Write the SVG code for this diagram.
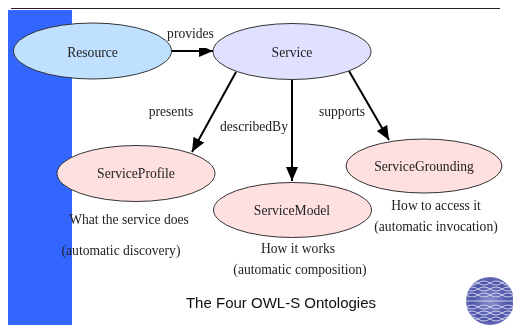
<svg xmlns="http://www.w3.org/2000/svg" width="513" height="325" viewBox="0 0 513 325">
<style>
.n{stroke:#333;stroke-width:1}
.t{font-family:"Liberation Serif","Times New Roman",serif;font-size:13.600px;fill:#222;text-anchor:middle}
.e{stroke:#000;stroke-width:2;fill:none;marker-end:url(#a)}
.g{fill:none;stroke:#e4e7f8;stroke-width:.8}
</style>
<defs>
<marker id="a" markerUnits="userSpaceOnUse" markerWidth="15" markerHeight="13" refX="14" refY="6" orient="auto"><path d="M0 0L14 6L0 12z" fill="#000"/></marker>
<radialGradient id="s" cx=".5" cy=".5" r=".5"><stop offset="0" stop-color="#8a90cc"/><stop offset=".8" stop-color="#4a52a8"/><stop offset="1" stop-color="#666db6"/></radialGradient>
<clipPath id="c"><circle cx="490" cy="301" r="24"/></clipPath>
<filter id="b" x="-2%" y="-2%" width="104%" height="104%"><feGaussianBlur stdDeviation=".4"/></filter>
</defs>
<rect x="0" y="0" width="513" height="325" fill="#fff"/>
<rect id="sidebar" x="8" y="10" width="64" height="315" fill="#3366ff"/>
<path id="rule" d="M11 8.500H500" stroke="#222" stroke-width="1"/>
<g id="connectors" filter="url(#b)">
<path class="e" d="M172 51H213"/>
<path class="e" d="M236 72L192 152"/>
<path class="e" d="M292 79V181"/>
<path class="e" d="M349 71L389 140"/>
</g>
<g filter="url(#b)">
<g id="resource"><ellipse class="n" cx="92.500" cy="51" rx="79" ry="28" fill="#bfe0ff"/><text class="t" x="92.500" y="57">Resource</text></g>
<g id="service"><ellipse class="n" cx="292" cy="51.500" rx="79" ry="28" fill="#e0e0ff"/><text class="t" x="292" y="57">Service</text></g>
<g id="serviceProfile"><ellipse class="n" cx="136" cy="173.500" rx="79" ry="28" fill="#ffe0e0"/><text class="t" x="136" y="178">ServiceProfile</text></g>
<g id="serviceModel"><ellipse class="n" cx="292.500" cy="210" rx="79" ry="27.500" fill="#ffe0e0"/><text class="t" x="292" y="215">ServiceModel</text></g>
<g id="serviceGrounding"><ellipse class="n" cx="424" cy="166" rx="78" ry="27" fill="#ffe0e0"/><text class="t" x="424" y="171">ServiceGrounding</text></g>
<g id="labels">
<text class="t" x="190.500" y="38">provides</text>
<text class="t" x="171" y="116">presents</text>
<text class="t" x="254" y="131">describedBy</text>
<text class="t" x="342" y="116">supports</text>
<text class="t" x="129" y="224">What the service does</text>
<text class="t" x="121" y="255">(automatic discovery)</text>
<text class="t" x="298" y="253">How it works</text>
<text class="t" x="300" y="274">(automatic composition)</text>
<text class="t" x="436" y="210">How to access it</text>
<text class="t" x="436" y="231">(automatic invocation)</text>
<text x="281" y="308" text-anchor="middle" style="font-family:'Liberation Sans',Arial,sans-serif;font-size:15px;fill:#111">The Four OWL-S Ontologies</text>
</g>
<g id="globe">
<circle cx="490" cy="301" r="24" fill="url(#s)"/>
<g clip-path="url(#c)">
<path class="g" d="M466 301H514"/>
<path class="g" d="M466 283Q472 279 478 283T490 283T502 283T514 283M466 289Q472 285 478 289T490 289T502 289T514 289M466 295Q472 291 478 295T490 295T502 295T514 295M466 307Q472 311 478 307T490 307T502 307T514 307M466 313Q472 317 478 313T490 313T502 313T514 313M466 319Q472 323 478 319T490 319T502 319T514 319"/>
<path class="g" d="M466 283Q472 287 478 283T490 283T502 283T514 283M466 289Q472 293 478 289T490 289T502 289T514 289M466 295Q472 299 478 295T490 295T502 295T514 295M466 307Q472 303 478 307T490 307T502 307T514 307M466 313Q472 309 478 313T490 313T502 313T514 313M466 319Q472 315 478 319T490 319T502 319T514 319"/>
</g>
</g>
</g>
</svg>
